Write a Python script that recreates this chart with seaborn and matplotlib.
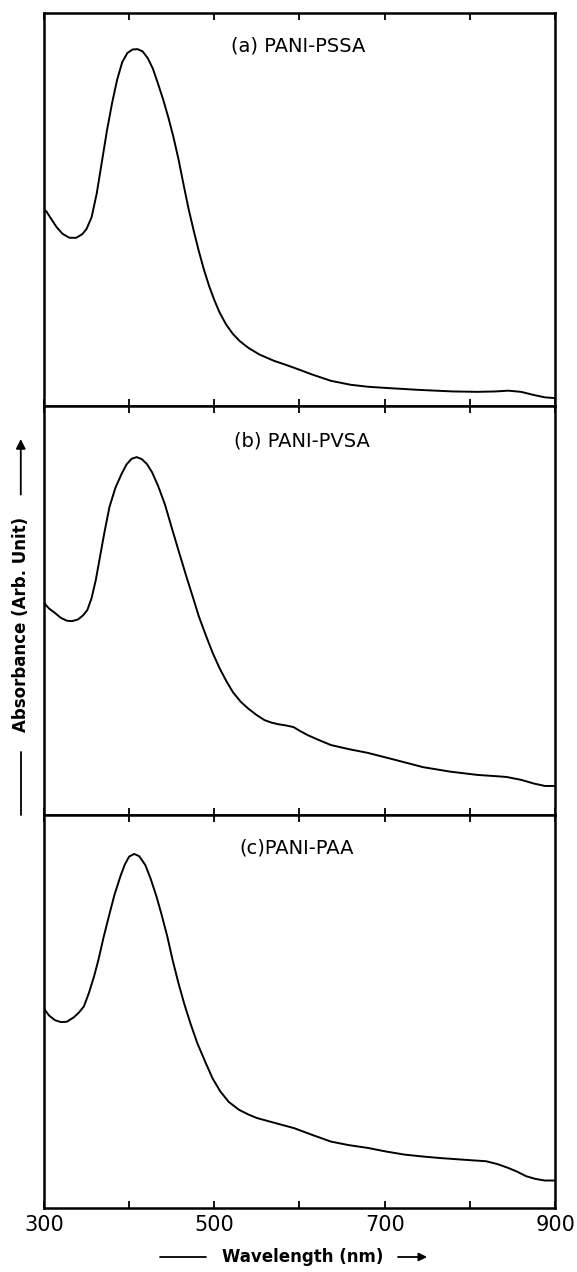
import matplotlib
matplotlib.use('Agg')
import matplotlib.pyplot as plt
import seaborn as sns
import pandas as pd
from matplotlib.lines import Line2D

# spectra, absorbance in arbitrary units (0..1 per panel)
wl_a = [300, 303, 308, 315, 322, 330, 338, 345, 350, 356, 362, 368, 374, 380, 386,
        392, 398, 404, 410, 416, 422, 428, 434, 440, 446, 452, 458, 464, 470, 476,
        482, 488, 494, 500, 506, 514, 522, 530, 540, 553, 570, 585, 599, 615, 637,
        660, 680, 701, 740, 780, 809, 830, 845, 860, 875, 888, 900]
abs_a = [0.500, 0.495, 0.478, 0.455, 0.438, 0.428, 0.428, 0.437, 0.450, 0.480,
         0.540, 0.620, 0.700, 0.770, 0.830, 0.875, 0.898, 0.907, 0.908, 0.902,
         0.885, 0.858, 0.820, 0.780, 0.735, 0.685, 0.628, 0.563, 0.500, 0.445,
         0.393, 0.346, 0.305, 0.270, 0.239, 0.207, 0.183, 0.165, 0.148, 0.131,
         0.115, 0.104, 0.093, 0.080, 0.064, 0.054, 0.049, 0.046, 0.041, 0.037,
         0.036, 0.037, 0.039, 0.036, 0.028, 0.022, 0.020]

wl_b = [300, 306, 313, 320, 327, 333, 340, 346, 351, 356, 361, 365, 371, 377, 384,
        391, 397, 403, 409, 415, 421, 427, 434, 442, 450, 459, 467, 475, 482, 490,
        498, 506, 514, 522, 531, 540, 550, 559, 567, 575, 584, 593, 601, 610, 622,
        637, 658, 680, 712, 745, 777, 809, 830, 843, 860, 875, 888, 900]
abs_b = [0.519, 0.505, 0.494, 0.482, 0.475, 0.474, 0.478, 0.488, 0.501, 0.530,
         0.575, 0.621, 0.690, 0.753, 0.800, 0.833, 0.857, 0.871, 0.875, 0.870,
         0.858, 0.838, 0.805, 0.760, 0.703, 0.640, 0.585, 0.532, 0.485, 0.440,
         0.397, 0.360, 0.328, 0.300, 0.277, 0.260, 0.244, 0.232, 0.226, 0.222,
         0.219, 0.215, 0.205, 0.195, 0.184, 0.171, 0.161, 0.152, 0.135, 0.117,
         0.106, 0.098, 0.095, 0.093, 0.086, 0.077, 0.071, 0.071]

wl_c = [300, 306, 313, 320, 327, 335, 341, 347, 353, 359, 364, 370, 377, 383, 390,
        395, 400, 406, 412, 419, 425, 432, 438, 445, 451, 458, 465, 472, 480, 490,
        498, 507, 517, 529, 540, 550, 572, 594, 615, 637, 658, 680, 701, 723, 745,
        766, 792, 819, 832, 845, 856, 866, 877, 888, 900]
abs_c = [0.508, 0.490, 0.478, 0.473, 0.474, 0.485, 0.497, 0.513, 0.548, 0.590,
         0.631, 0.688, 0.748, 0.798, 0.845, 0.874, 0.894, 0.901, 0.895, 0.873,
         0.840, 0.794, 0.748, 0.690, 0.632, 0.572, 0.518, 0.470, 0.420, 0.369,
         0.330, 0.297, 0.270, 0.250, 0.238, 0.229, 0.216, 0.203, 0.186, 0.169,
         0.160, 0.153, 0.144, 0.136, 0.131, 0.127, 0.123, 0.119, 0.112, 0.102,
         0.092, 0.081, 0.074, 0.070, 0.070]

titles = ['(a) PANI-PSSA', '(b) PANI-PVSA', '(c)PANI-PAA']
title_x = [598, 603, 597]
xticks = [300, 400, 500, 600, 700, 800, 900]
xtick_labels = ['300', '', '500', '', '700', '', '900']

sns.set_style('ticks', {'axes.edgecolor': 'black', 'xtick.color': 'black',
                        'text.color': 'black', 'axes.labelcolor': 'black'})
plt.rcParams['font.family'] = ['DejaVu Sans']

fig, axes = plt.subplots(3, 1, figsize=(5.77, 12.72), dpi=100, sharex=True,
                         gridspec_kw=dict(height_ratios=[393, 409, 393], hspace=0))
fig.subplots_adjust(left=0.076, right=0.962, top=0.9898, bottom=0.0503)

spectra = [(wl_a, abs_a), (wl_b, abs_b), (wl_c, abs_c)]
for ax, (wl, ab), title, tx in zip(axes, spectra, titles, title_x):
    df = pd.DataFrame({'wavelength': wl, 'absorbance': ab})
    sns.lineplot(data=df, x='wavelength', y='absorbance', ax=ax,
                 color='black', linewidth=1.4)
    ax.set_xlim(300, 900)
    ax.set_ylim(0, 1)
    ax.set_yticks([])
    ax.set_xlabel('')
    ax.set_ylabel('')
    ax.set_xticks(xticks)
    ax.tick_params(axis='x', direction='in', top=True, bottom=True,
                   length=5, width=1.3, pad=5, labelsize=15, colors='black')
    for sp in ax.spines.values():
        sp.set_linewidth(1.8)
        sp.set_color('black')
    ax.text(tx, 0.915, title, ha='center', va='center', fontsize=14,
            color='black')

axes[-1].set_xticklabels(xtick_labels)

# y label with leading line and arrow
fig.text(0.036, 0.509, 'Absorbance (Arb. Unit)', rotation=90, ha='center',
         va='center', fontsize=12, fontweight='bold', color='black')
fig.add_artist(Line2D([0.036, 0.036], [0.359, 0.409], transform=fig.transFigure,
                      color='black', lw=1.3))
axes[0].annotate('', xy=(0.036, 0.657), xytext=(0.036, 0.609),
                 xycoords='figure fraction', textcoords='figure fraction',
                 annotation_clip=False,
                 arrowprops=dict(arrowstyle='-|>', color='black', lw=1.3,
                                 mutation_scale=14))

# x label with leading line and arrow
fig.text(0.525, 0.0118, 'Wavelength (nm)', ha='center', va='center',
         fontsize=12, fontweight='bold', color='black')
fig.add_artist(Line2D([0.277, 0.357], [0.0118, 0.0118], transform=fig.transFigure,
                      color='black', lw=1.3))
axes[-1].annotate('', xy=(0.745, 0.0118), xytext=(0.685, 0.0118),
                  xycoords='figure fraction', textcoords='figure fraction',
                  annotation_clip=False,
                  arrowprops=dict(arrowstyle='-|>', color='black', lw=1.3,
                                  mutation_scale=12))

fig.savefig('out.png', dpi=100)
